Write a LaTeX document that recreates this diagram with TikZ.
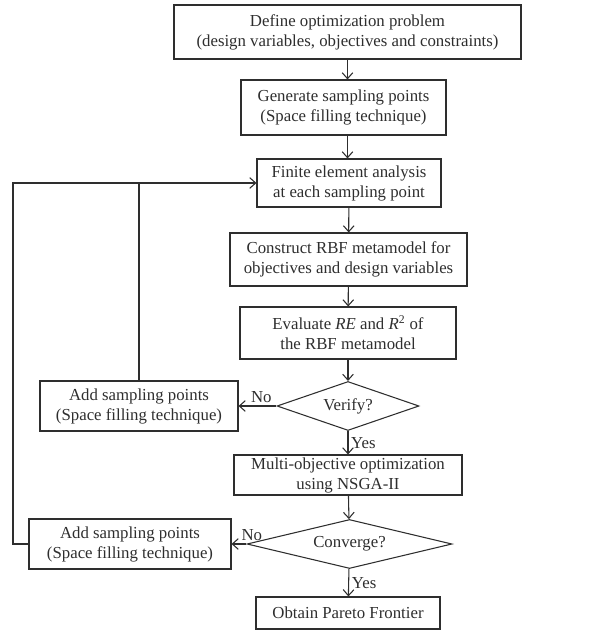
\documentclass[tikz,border=0pt]{standalone}
\usepackage{fontspec}
\setmainfont{Liberation Serif}
\usetikzlibrary{shapes.geometric,arrows.meta}
\definecolor{ink}{HTML}{2E2E2E}
\tikzset{
  stepbox/.style={draw=ink, line width=0.8pt, align=center, inner sep=0pt, text=ink},
  decide/.style={draw=ink, line width=0.8pt, diamond, aspect=2.9, inner sep=0pt, text=ink},
  flow/.style={draw=ink, line width=0.8pt, -{Straight Barb[length=4.5pt,width=8pt]}},
  tag/.style={text=ink, inner sep=2pt},
}
\begin{document}
\begin{tikzpicture}[x=0.75pt,y=-0.75pt,font=\fontsize{12.6pt}{15pt}\selectfont]%
        \useasboundingbox (0,0) rectangle (600,630);
        \node[stepbox, minimum width=260.25pt, minimum height=40.5pt] (define) at (347.5,32)
            {Define optimization problem\\(design variables, objectives and constraints)};
        \node[stepbox, minimum width=153.75pt, minimum height=41.25pt] (generate) at (343.5,107.5)
            {Generate sampling points\\(Space filling technique)};
        \node[stepbox, minimum width=138pt, minimum height=36pt] (fea) at (349,183)
            {Finite element analysis\\at each sampling point};
        \node[stepbox, minimum width=177.75pt, minimum height=39.75pt] (rbf) at (348.5,259.5)
            {Construct RBF metamodel for\\objectives and design variables};
        \node[stepbox, minimum width=162pt, minimum height=39pt] (evaluate) at (348,333)
            {Evaluate \textit{RE} and \textit{R}\textsuperscript{2} of\\the RBF metamodel};
        \node[decide, minimum width=106.5pt, minimum height=36.75pt] (verify) at (348,406) {Verify?};
        \node[stepbox, minimum width=148.5pt, minimum height=37.5pt] (addA) at (139,406)
            {Add sampling points\\(Space filling technique)};
        \node[stepbox, minimum width=171pt, minimum height=30pt] (nsga) at (348,475)
            {Multi-objective optimization\\using NSGA-II};
        \node[decide, minimum width=153.75pt, minimum height=36.75pt] (converge) at (349.5,544) {Converge?};
        \node[stepbox, minimum width=151.5pt, minimum height=37.5pt] (addB) at (130,544)
            {Add sampling points\\(Space filling technique)};
        \node[stepbox, minimum width=138pt, minimum height=24pt] (pareto) at (348,613)
            {Obtain Pareto Frontier};
        \coordinate (back) at (13,183);
        \draw[flow] (define) -- (define |- generate.north);
        \draw[flow] (generate.south -| define) -- (define |- fea.north);
        \draw[flow] (fea) -- (rbf);
        \draw[flow] (rbf) -- (evaluate);
        \draw[flow] (evaluate) -- (verify);
        \draw[flow] (verify) -- node[tag, pos=.4, above]{No} (addA);
        \draw[flow] (verify) -- node[tag, right]{Yes} (nsga);
        \draw[flow] (nsga) -- (converge);
        \draw[flow] (converge) -- node[tag, pos=0, above, xshift=4pt]{No} (addB);
        \draw[flow] (converge) -- node[tag, right]{Yes} (pareto);
        \draw[flow] (addB.west) -| (back) -- (fea.west);
        \draw[draw=ink, line width=0.8pt] (addA.north) -- (addA.north |- back);
    \end{tikzpicture}
\end{document}
